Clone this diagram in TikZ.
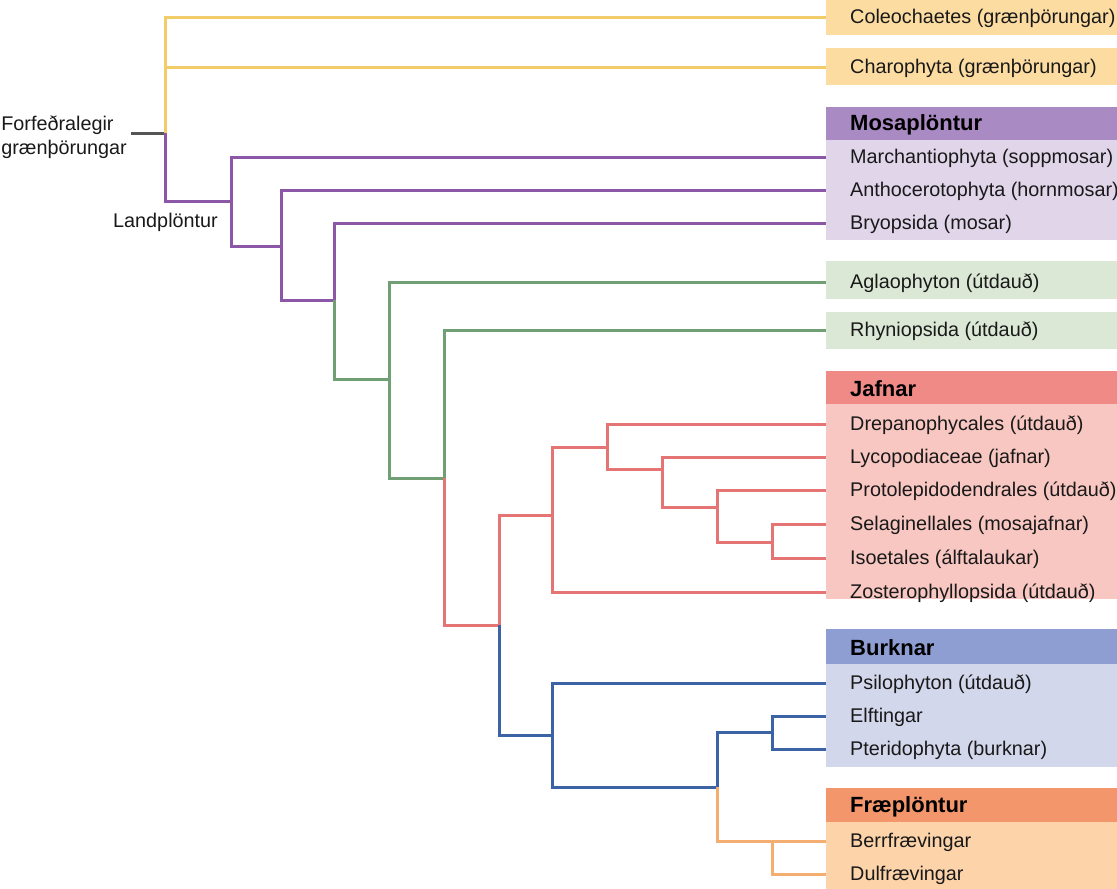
\documentclass[tikz,border=0pt]{standalone}
\usepackage{fontspec}
\setmainfont{Liberation Sans}
\definecolor{yelL}{HTML}{F3CC6A}\definecolor{yelB}{HTML}{FDDCA2}
\definecolor{purL}{HTML}{8B57A6}\definecolor{purH}{HTML}{A98AC2}\definecolor{purB}{HTML}{E1D5EA}
\definecolor{grnL}{HTML}{6F9F73}\definecolor{grnB}{HTML}{DCE8D6}
\definecolor{redL}{HTML}{E57575}\definecolor{redH}{HTML}{F08A86}\definecolor{redB}{HTML}{F8C7C2}
\definecolor{bluL}{HTML}{3C63A5}\definecolor{bluH}{HTML}{8F9ED2}\definecolor{bluB}{HTML}{D3D7EC}
\definecolor{ornL}{HTML}{F4AE72}\definecolor{ornH}{HTML}{F4966B}\definecolor{ornB}{HTML}{FDD3AA}
\definecolor{stubL}{HTML}{555555}
\tikzset{
  edge/.style={line width=3pt, line join=miter},
  leaf/.style={anchor=west, inner xsep=24pt, inner ysep=0pt, text height=18pt, text depth=4.5pt, font=\fontsize{19.8}{22}\selectfont, text=black!90},
  head/.style={anchor=west, inner xsep=24pt, inner ysep=0pt, yshift=-1pt, font=\fontsize{22}{24}\selectfont\bfseries, text=black},
  plain/.style={inner sep=0pt, font=\fontsize{19.8}{24}\selectfont, text=black!90},
}
\begin{document}
\begin{tikzpicture}[x=1pt,y=-1pt]
\useasboundingbox (0,0) rectangle (1117,889);
% background boxes
\fill[yelB] (826,0) rectangle (1117,35);
\fill[yelB] (826,48) rectangle (1117,85);
\fill[purH] (826,107) rectangle (1117,140);
\fill[purB] (826,140) rectangle (1117,240);
\fill[grnB] (826,261) rectangle (1117,299);
\fill[grnB] (826,312) rectangle (1117,349);
\fill[redH] (826,371) rectangle (1117,404);
\fill[redB] (826,404) rectangle (1117,599);
\fill[bluH] (826,629) rectangle (1117,664);
\fill[bluB] (826,664) rectangle (1117,767);
\fill[ornH] (826,788) rectangle (1117,822);
\fill[ornB] (826,822) rectangle (1117,889);
% headers
\node[head] (hmosa) at (826,124) {Mosaplöntur};
\node[head] (hjafn) at (826,388) {Jafnar};
\node[head] (hburk) at (826,647) {Burknar};
\node[head] (hfrae) at (826,806) {Fræplöntur};
% leaves
\node[leaf] (coleo) at (826,17) {Coleochaetes (grænþörungar)};
\node[leaf] (charo) at (826,67) {Charophyta (grænþörungar)};
\node[leaf] (march) at (826,157) {Marchantiophyta (soppmosar)};
\node[leaf] (antho) at (826,190) {Anthocerotophyta (hornmosar)};
\node[leaf] (bryop) at (826,223) {Bryopsida (mosar)};
\node[leaf] (aglao) at (826,282) {Aglaophyton (útdauð)};
\node[leaf] (rhyni) at (826,330) {Rhyniopsida (útdauð)};
\node[leaf] (drepa) at (826,424) {Drepanophycales (útdauð)};
\node[leaf] (lycop) at (826,457) {Lycopodiaceae (jafnar)};
\node[leaf] (proto) at (826,490) {Protolepidodendrales (útdauð)};
\node[leaf] (selag) at (826,524) {Selaginellales (mosajafnar)};
\node[leaf] (isoet) at (826,558) {Isoetales (álftalaukar)};
\node[leaf] (zoste) at (826,592) {Zosterophyllopsida (útdauð)};
\node[leaf] (psilo) at (826,683) {Psilophyton (útdauð)};
\node[leaf] (elfti) at (826,716) {Elftingar};
\node[leaf] (pteri) at (826,749) {Pteridophyta (burknar)};
\node[leaf] (berrf) at (826,841) {Berrfrævingar};
\node[leaf] (dulfr) at (826,874) {Dulfrævingar};
% labels
\node[plain, anchor=east, align=left] (anclab) at (127,137) {Forfeðralegir\\grænþörungar};
\node[plain, anchor=east] (landlab) at (218,222) {Landplöntur};
% internal nodes
\coordinate (anc) at (131,133);
\coordinate (root) at (165,133);
\coordinate (nLand) at (231,201);
\coordinate (nAntho) at (281,246);
\coordinate (nBryo) at (334,300);
\coordinate (nVasc) at (389,379);
\coordinate (nRhy) at (444,478);
\coordinate (nEuv) at (499,625);
\coordinate (nLyc) at (552,515);
\coordinate (nL1) at (607,447);
\coordinate (nL2) at (662,469);
\coordinate (nL3) at (717,507);
\coordinate (nL4) at (772,542);
\coordinate (nEup) at (552,735);
\coordinate (nE1) at (717,787);
\coordinate (nFern) at (772,732);
\coordinate (nSeed) at (772,841);
% edges
\draw[edge, stubL] (anc) -- (root);
\draw[edge, yelL] (root) |- (coleo.west);
\draw[edge, yelL] (root) |- (charo.west);
\draw[edge, purL] (root) |- (nLand);
\draw[edge, purL] (nLand) |- (march.west);
\draw[edge, purL] (nLand) |- (nAntho);
\draw[edge, purL] (nAntho) |- (antho.west);
\draw[edge, purL] (nAntho) |- (nBryo);
\draw[edge, purL] (nBryo) |- (bryop.west);
\draw[edge, grnL] (nBryo) |- (nVasc);
\draw[edge, grnL] (nVasc) |- (aglao.west);
\draw[edge, grnL] (nVasc) |- (nRhy);
\draw[edge, grnL] (nRhy) |- (rhyni.west);
\draw[edge, redL] (nRhy) |- (nEuv);
\draw[edge, redL] (nEuv) |- (nLyc);
\draw[edge, redL] (nLyc) |- (nL1);
\draw[edge, redL] (nLyc) |- (zoste.west);
\draw[edge, redL] (nL1) |- (drepa.west);
\draw[edge, redL] (nL1) |- (nL2);
\draw[edge, redL] (nL2) |- (lycop.west);
\draw[edge, redL] (nL2) |- (nL3);
\draw[edge, redL] (nL3) |- (proto.west);
\draw[edge, redL] (nL3) |- (nL4);
\draw[edge, redL] (nL4) |- (selag.west);
\draw[edge, redL] (nL4) |- (isoet.west);
\draw[edge, bluL] (nEuv) |- (nEup);
\draw[edge, bluL] (nEup) |- (psilo.west);
\draw[edge, bluL] (nEup) |- (nE1);
\draw[edge, bluL] (nE1) |- (nFern);
\draw[edge, bluL] (nFern) |- (elfti.west);
\draw[edge, bluL] (nFern) |- (pteri.west);
\draw[edge, ornL] (nE1) |- (nSeed);
\draw[edge, ornL] (nSeed) -- (berrf.west);
\draw[edge, ornL] (nSeed) |- (dulfr.west);
\end{tikzpicture}
\end{document}
